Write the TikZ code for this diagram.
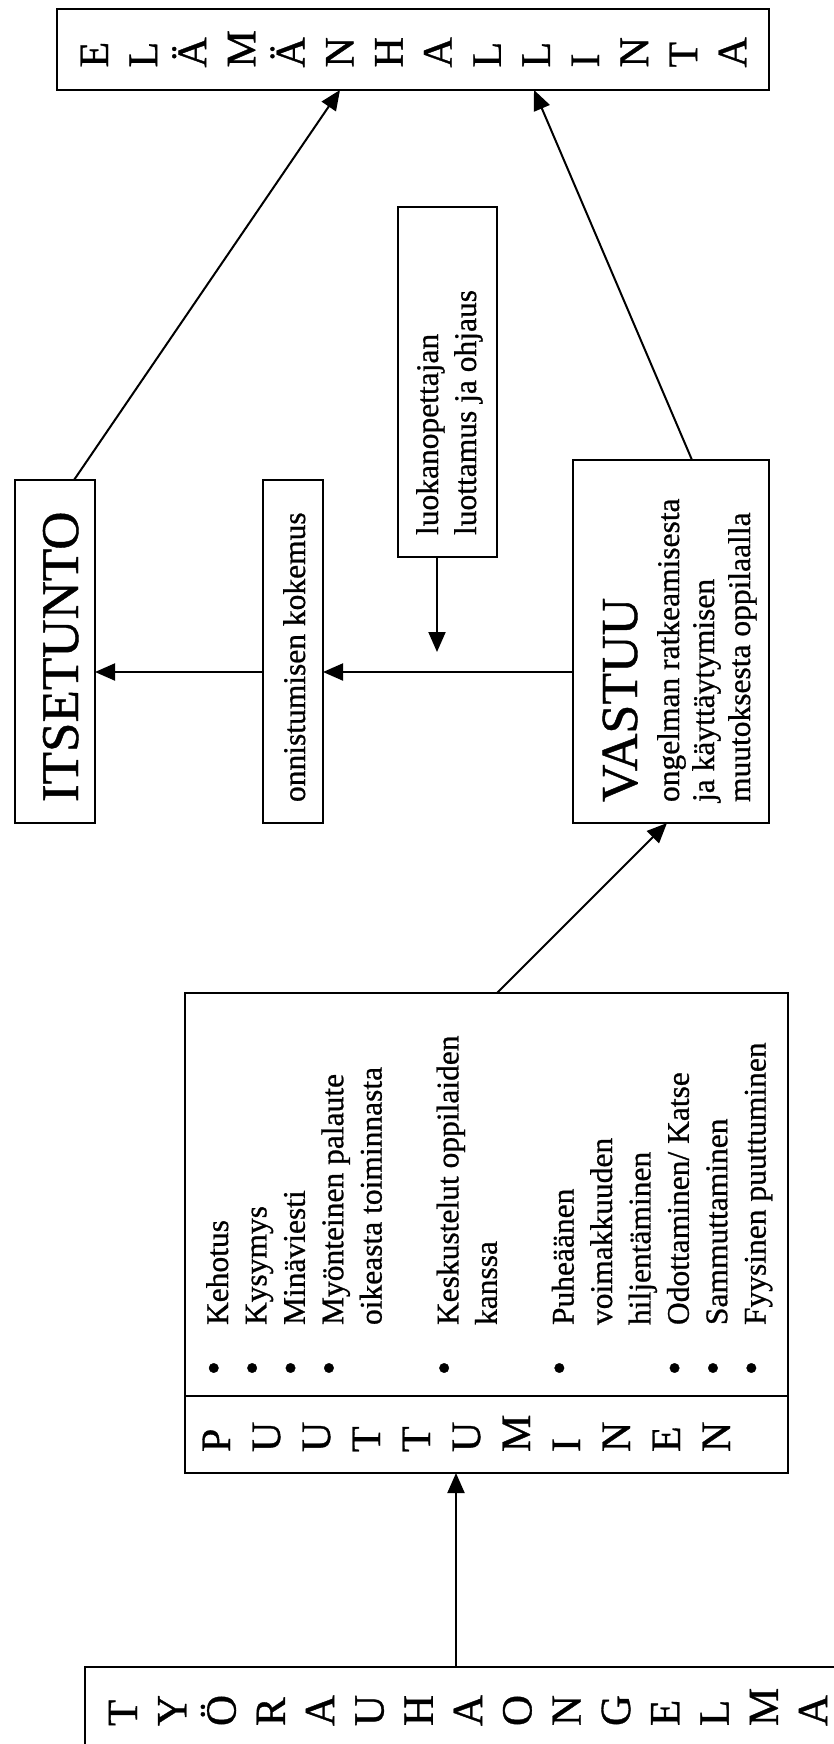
\documentclass[tikz,border=0pt]{standalone}
\usepackage{fontspec}
\setmainfont{Liberation Serif}[FakeBold=0.8]
\usetikzlibrary{arrows.meta}
\begin{document}
\begin{tikzpicture}[x=1pt,y=1pt,
  box/.style 2 args={draw, line width=2.4pt, minimum width=#1, minimum height=#2, inner sep=0pt, outer sep=0pt},
  arr/.style={line width=2pt, -{Triangle[length=20pt,width=17pt]}},
  rt/.style={rotate=90, anchor=base west, inner sep=0pt, outer sep=0pt},
  stk/.style={rt, font=\fontsize{42}{42}\selectfont},
  stkb/.style={rt, font=\fontsize{43}{43}\selectfont},
  smalltxt/.style={rt, font=\fontsize{31.5}{38}\selectfont},
  bigtxt/.style={rt, font=\fontsize{53}{60}\selectfont},
  bul/.style={rotate=90, inner sep=0pt, outer sep=0pt, font=\fontsize{40}{40}\selectfont}
]
\useasboundingbox (0,0) rectangle (834,-1744);

% boxes
\node[box={712pt}{81pt}] (top) at (413,-49.5) {};
\node[box={80pt}{343pt}] (itse) at (55,-651.5) {};
\node[box={60pt}{343pt}] (onn) at (293,-651.5) {};
\node[box={99pt}{350pt}] (luok) at (447.5,-382) {};
\node[box={196pt}{363pt}] (vast) at (671,-641.5) {};
\node[box={603pt}{480pt}] (bigbox) at (486.5,-1233) {};
\node[box={771pt}{83pt}] (bot) at (470.5,-1708.5) {};
\draw[line width=2.4pt] ([yshift=77pt]bigbox.south west) -- ([yshift=77pt]bigbox.south east);

% stacked letters
\foreach \l [count=\i from 0] in {E,L,Ä,M,Ä,N,H,A,L,L,I,N,T,A}
  \node[stk] (el\i) at ({108+\i*49.1},-67.5) {\l};
\foreach \l [count=\i from 0] in {T,Y,Ö,R,A,U,H,A,O,N,G,E,L,M,A}
  \node[stkb] (ty\i) at ({137+\i*49.3},-1726) {\l};
\foreach \l [count=\i from 0] in {P,U,U,T,T,U,M,I,N,E,N}
  \node[stk] (pu\i) at ({230+\i*50},-1452) {\l};

% texts
\node[bigtxt] (itsetxt) at (78,-802) {ITSETUNTO};
\node[smalltxt] (onntxt) at (305,-802) {onnistumisen kokemus};
\node[smalltxt] (luok1) at (438,-535) {luokanopettajan};
\node[smalltxt] (luok2) at (476,-535) {luottamus ja ohjaus};
\node[rt, font=\fontsize{52}{60}\selectfont] (vasttxt) at (637,-802) {VASTUU};
\node[smalltxt] (vast1) at (679,-802) {ongelman ratkeamisesta};
\node[smalltxt] (vast2) at (714,-802) {ja käyttäytymisen};
\node[smalltxt] (vast3) at (750,-802) {muutoksesta oppilaalla};

% list
\node[smalltxt] (li1) at (228,-1325) {Kehotus};
\node[smalltxt] (li2) at (266.4,-1325) {Kysymys};
\node[smalltxt] (li3) at (304.8,-1325) {Minäviesti};
\node[smalltxt] (li4) at (343.2,-1325) {Myönteinen palaute};
\node[smalltxt] (li5) at (381.6,-1325) {oikeasta toiminnasta};
\node[smalltxt] (li7) at (458.4,-1325) {Keskustelut oppilaiden};
\node[smalltxt] (li8) at (496.8,-1325) {kanssa};
\node[smalltxt] (li10) at (573.6,-1325) {Puheäänen};
\node[smalltxt] (li11) at (612,-1325) {voimakkuuden};
\node[smalltxt] (li12) at (650.4,-1325) {hiljentäminen};
\node[smalltxt] (li13) at (688.8,-1325) {Odottaminen/ Katse};
\node[smalltxt] (li14) at (727.2,-1325) {Sammuttaminen};
\node[smalltxt] (li15) at (765.6,-1325) {Fyysinen puuttuminen};
\foreach \bx [count=\i] in {218,256.4,294.8,333.2,448.4,563.6,678.8,717.2,755.6}
  \node[bul] (bu\i) at (\bx,-1368) {•};

% connectors
\draw[arr] ([xshift=19pt]itse.north) -- ([xshift=-73pt]top.south);
\draw[arr] ([xshift=21pt]vast.north) -- ([xshift=121pt]top.south);
\draw[arr] ([yshift=-20.5pt]onn.west) -- ([yshift=-20.5pt]itse.east);
\draw[arr] ([yshift=-30.5pt]vast.west) -- ([yshift=-20.5pt]onn.east);
\coordinate (ltip) at (437,-652);
\draw[arr] ([xshift=-10.5pt]luok.south) -- (ltip);
\draw[arr] ([xshift=10.5pt]bigbox.north) -- ([xshift=-4pt]vast.south);
\draw[arr] ([xshift=-14.5pt]bot.north) -- ([xshift=-30.5pt]bigbox.south);
\end{tikzpicture}
\end{document}
